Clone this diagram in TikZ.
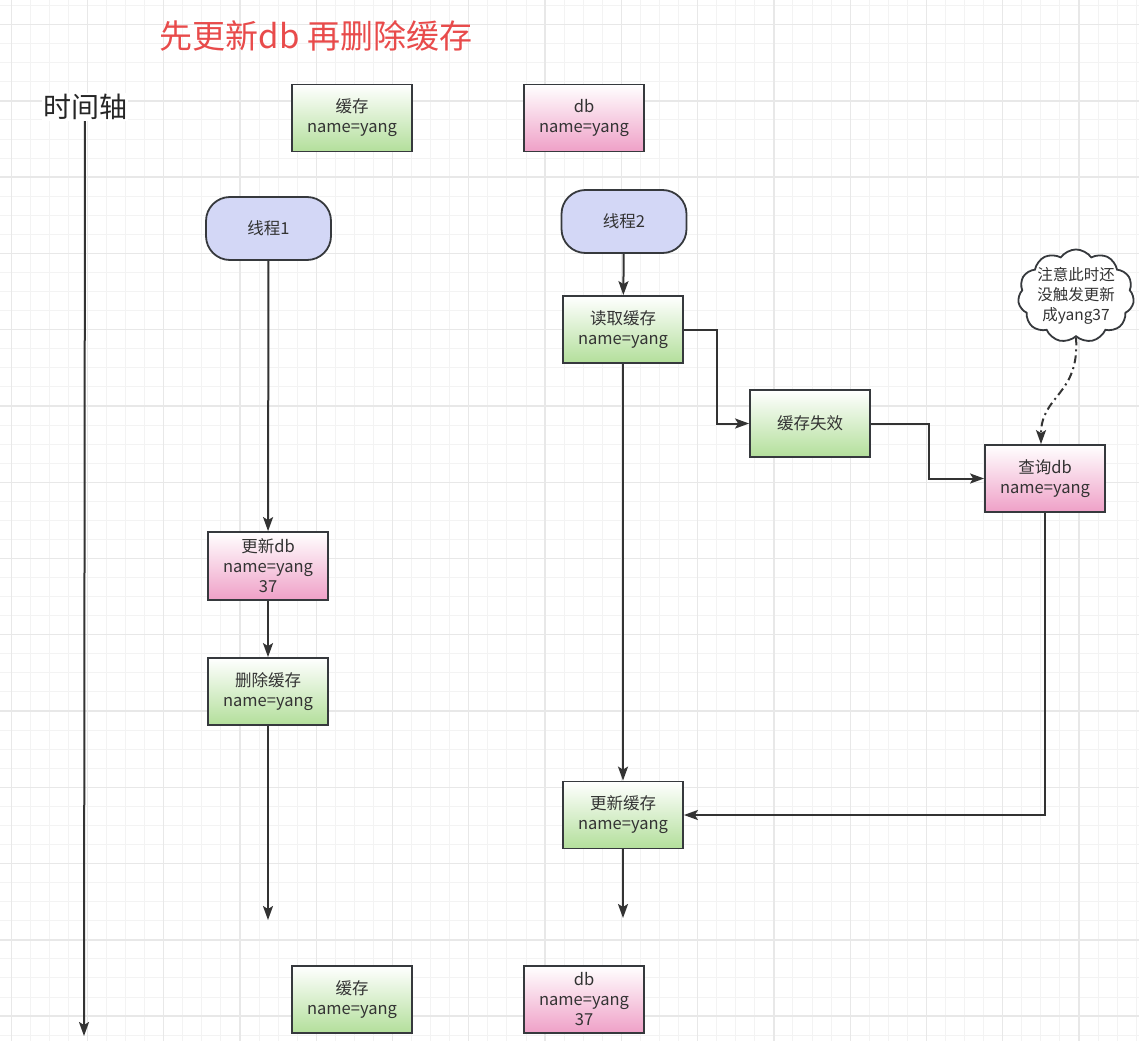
\documentclass[tikz,border=0pt]{standalone}
\usepackage{fontspec}
\setmainfont{Noto Sans CJK SC}
\usetikzlibrary{arrows.meta,shapes.symbols,positioning}
\definecolor{ink}{HTML}{333333}
\definecolor{edge}{HTML}{36393D}
\definecolor{leaf}{HTML}{B3DF9B}
\definecolor{rose}{HTML}{EFA0C7}
\definecolor{lilac}{HTML}{D3D7F6}
\definecolor{alert}{HTML}{E84B4B}
\definecolor{gridminor}{HTML}{F3F3F3}
\definecolor{gridmajor}{HTML}{E8E8E8}

\begin{document}
\begin{tikzpicture}[x=1pt,y=-1pt,
box/.style={draw=edge,line width=1.8pt,align=center,minimum width=120pt,minimum height=67pt,inner sep=2pt,text=ink,font=\fontsize{16.5}{20}\selectfont},
cachebox/.style={box,top color=white,bottom color=leaf},
dbbox/.style={box,top color=white,bottom color=rose},
thread/.style={box,fill=lilac,rounded corners=24pt,minimum width=125pt,minimum height=63pt},
flow/.style={draw=ink,line width=2pt,-{Stealth[length=14pt,width=10pt,inset=3pt]}}]
\useasboundingbox (0,0) rectangle (1139,1041);
% background grid
\foreach \i in {0,...,60} \draw[gridminor,line width=1pt] (-7.87+19.0675*\i,0) -- ++(0,1041);
\foreach \i in {0,...,55} \draw[gridminor,line width=1pt] (0,5.53+19.0675*\i) -- ++(1139,0);
\foreach \i in {0,...,15} \draw[gridmajor,line width=1.3pt] (11.2+76.27*\i,0) -- ++(0,1041);
\foreach \i in {0,...,13} \draw[gridmajor,line width=1.3pt] (0,24.6+76.27*\i) -- ++(1139,0);

\node[text=alert,font=\fontsize{33}{38}\selectfont] (title) at (316,36) {先更新db 再删除缓存};
\node[text=black!85,font=\fontsize{28}{32}\selectfont,fill=white,inner sep=1pt] (axis) at (85,107) {时间轴};
\coordinate (axisend) at (84,1036);

% initial state
\node[cachebox] (cache0) at (352,118) {缓存\\name=yang};
\node[dbbox] (db0) at (584,118) {db\\name=yang};

% thread 1
\node[thread] (t1) at (268.5,228.5) {线程1};
\node[dbbox,minimum height=68pt] (gdb) at (268,566) {更新db\\name=yang\\37};
\node[cachebox] (delc) at (268,691.5) {删除缓存\\name=yang};
\coordinate (end1) at (268,920);

% thread 2
\node[thread] (t2) at (624,221.5) {线程2};
\node[cachebox] (rc) at (623,329.5) {读取缓存\\name=yang};
\node[cachebox] (miss) at (810,423.5) {缓存失效};
\node[dbbox] (qdb) at (1045,478.5) {查询db\\name=yang};
\node[cachebox] (uc) at (623,815) {更新缓存\\name=yang};
\coordinate (end2) at (623,918);

\node[cloud,cloud puffs=11,cloud puff arc=110,draw=edge,line width=1.8pt,fill=white,text=ink,align=center,
  font=\fontsize{15.5}{20}\selectfont,inner sep=-9pt,minimum width=116pt,minimum height=88pt] (note) at (1076,296)
  {注意此时还\\没触发更新\\成yang37};

% final state
\node[cachebox] (cache1) at (352,999.5) {缓存\\name=yang};
\node[dbbox] (db1) at (584,999.5) {db\\name=yang\\37};

\draw[flow] (axis) -- (axisend);
\draw[flow] (t1) -- (gdb);
\draw[flow] (gdb) -- (delc);
\draw[flow] (delc) -- (end1);
\draw[flow] (t2) -- (rc);
\draw[flow] (rc.east) -- ++(33,0) |- (miss.west);
\draw[flow] (miss.east) -- ++(58,0) |- (qdb.west);
\draw[flow] (rc) -- (uc);
\draw[flow] (qdb.south) |- (uc.east);
\draw[flow] (uc) -- (end2);
\draw[flow,dash pattern=on 8pt off 4pt on 2pt off 4pt] (note.south) .. controls (1080,395) and (1041,395) .. ([xshift=-4pt]qdb.north);
\end{tikzpicture}
\end{document}
